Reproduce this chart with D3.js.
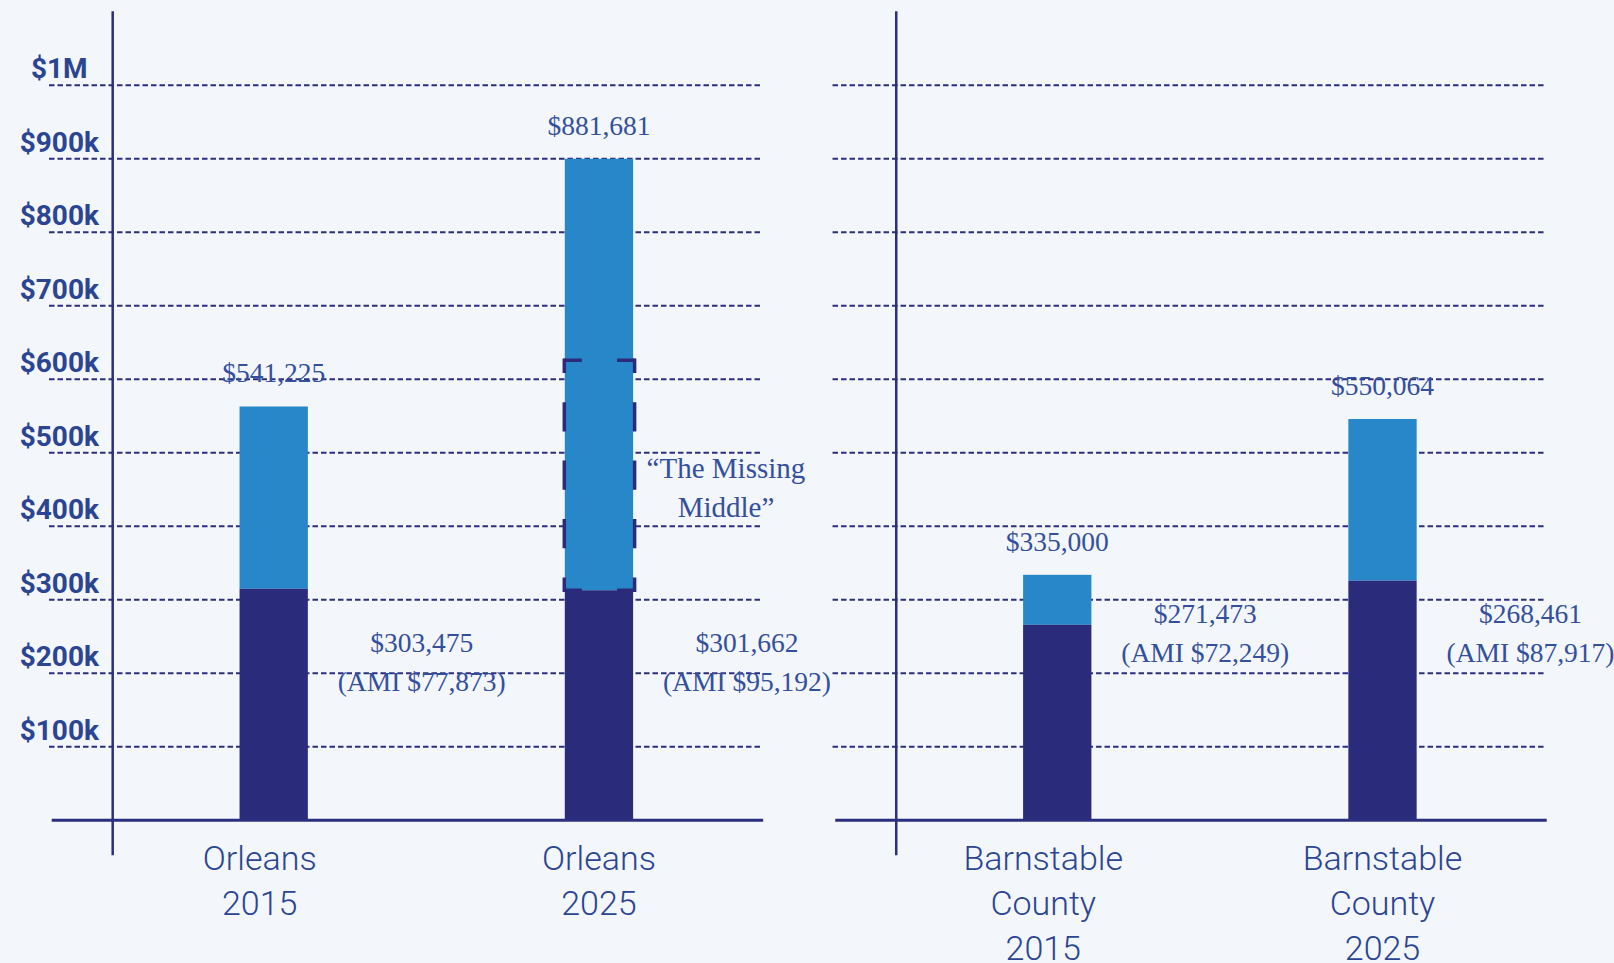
<!DOCTYPE html>
<html>
<head>
<meta charset="utf-8">
<script src="https://cdn.jsdelivr.net/npm/d3@7"></script>
<style>
    body { margin: 0; background: #f3f6fb; }
    svg { display: block; }
</style>
</head>
<body>
<div id="chart"></div>
<script>
const places = ["Orleans", "Barnstable County"];
const years = ["2015", "2025"];

// bar heights as drawn in the source graphic (median price / affordable price)
const medianPrice = [[563000, 900000], [334000, 546000]];
const affordablePrice = [[315000, 313000], [266000, 326000]];

const medianLabels = [["$541,225", "$881,681"], ["$335,000", "$550,064"]];
const affordableLabels = [["$303,475", "$301,662"], ["$271,473", "$268,461"]];
const amiLabels = [["(AMI $77,873)", "(AMI $95,192)"], ["(AMI $72,249)", "(AMI $87,917)"]];

const yTicks = [100000, 200000, 300000, 400000, 500000, 600000, 700000, 800000, 900000, 1000000];
const yTickLabels = ["$100k", "$200k", "$300k", "$400k", "$500k", "$600k", "$700k", "$800k", "$900k", "$1M"];

// "missing middle" band on Orleans 2025
const missingMiddle = [313000, 626000];
const missingMiddleText = ["\u201CThe Missing", "Middle\u201D"];

const config = {
    width: 1614,
    height: 963,
    light: "#2887c8",
    dark: "#2a2c7b",
    line: "#2b2f7e",
    text: "#2b4592",
    valueText: "#34509c",
    serif: "'Liberation Serif', 'DejaVu Serif', serif",
    sans: "Roboto, 'Noto Sans', sans-serif",
};

const svg = d3.select('#chart')
    .append('svg')
    .attr('width', config.width)
    .attr('height', config.height)
;

const y = d3.scaleLinear()
    .domain([0, 1000000])
    .range([820.3, 85.3])
;

const panelX = d3.scaleBand()
    .domain(places)
    .range([49, 1544])
    .paddingInner(0.092)
;

// y tick labels (left side only)
svg.append('g')
    .selectAll('text')
    .data(yTicks)
    .join('text')
    .attr('x', 59.3)
    .attr('y', d => y(d) - 7)
    .attr('text-anchor', 'middle')
    .attr('font-family', config.sans)
    .attr('font-weight', 700)
    .attr('font-size', 28)
    .attr('fill', config.text)
    .text((d, i) => yTickLabels[i])
;

places.forEach((place, pi) => {
    const p0 = panelX(place);
    const pw = panelX.bandwidth();
    const axisX = p0 + 63.7;

    const x = d3.scaleBand()
        .domain(years)
        .range([axisX, p0 + pw - 0.5])
        .paddingInner(0.79)
        .paddingOuter(0.39)
    ;

    const g = svg.append('g').attr('class', 'panel');

    // dashed gridlines
    g.append('g')
        .selectAll('line')
        .data(yTicks)
        .join('line')
        .attr('x1', p0)
        .attr('x2', p0 + pw)
        .attr('y1', d => y(d))
        .attr('y2', d => y(d))
        .attr('stroke', config.line)
        .attr('stroke-width', 2)
        .attr('stroke-dasharray', '5.5,3')
    ;

    // vertical axis
    g.append('line')
        .attr('x1', axisX).attr('x2', axisX)
        .attr('y1', y(0) + 35).attr('y2', y(1000000) - 74)
        .attr('stroke', config.line)
        .attr('stroke-width', 2.5)
    ;

    const rows = years.map((yr, i) => ({
        year: yr,
        median: medianPrice[pi][i],
        affordable: affordablePrice[pi][i],
        medianLabel: medianLabels[pi][i],
        affLabel: affordableLabels[pi][i],
        amiLabel: amiLabels[pi][i],
    }));

    // top (light) segment
    g.append('g')
        .selectAll('rect')
        .data(rows)
        .join('rect')
        .attr('x', d => x(d.year))
        .attr('width', x.bandwidth())
        .attr('y', d => y(d.median))
        .attr('height', d => y(d.affordable) - y(d.median))
        .attr('fill', config.light)
    ;

    // affordable (dark) segment
    g.append('g')
        .selectAll('rect')
        .data(rows)
        .join('rect')
        .attr('x', d => x(d.year))
        .attr('width', x.bandwidth())
        .attr('y', d => y(d.affordable))
        .attr('height', d => y(0) - y(d.affordable))
        .attr('fill', config.dark)
    ;

    // baseline
    g.append('line')
        .attr('x1', p0 + 2.7).attr('x2', p0 + pw + 2.7)
        .attr('y1', y(0)).attr('y2', y(0))
        .attr('stroke', config.line)
        .attr('stroke-width', 3)
    ;

    // median price labels
    g.append('g')
        .selectAll('text')
        .data(rows)
        .join('text')
        .attr('x', d => x(d.year) + x.bandwidth() / 2)
        .attr('y', d => y(d.median) - 24)
        .attr('text-anchor', 'middle')
        .attr('font-family', config.serif)
        .attr('font-size', 27.5)
        .attr('fill', config.valueText)
        .text(d => d.medianLabel)
    ;

    // affordable price + AMI labels, to the right of each bar
    const amiY = pi === 0 ? 652 : 623;
    const lab = g.append('g')
        .selectAll('text')
        .data(rows)
        .join('text')
        .attr('text-anchor', 'middle')
        .attr('font-family', config.serif)
        .attr('font-size', 27.5)
        .attr('fill', config.valueText)
    ;
    lab.append('tspan')
        .attr('x', d => x(d.year) + x.bandwidth() / 2 + 148)
        .attr('y', amiY)
        .text(d => d.affLabel)
    ;
    lab.append('tspan')
        .attr('x', d => x(d.year) + x.bandwidth() / 2 + 148)
        .attr('y', amiY + 39)
        .text(d => d.amiLabel)
    ;

    // category labels (2015 ones sit a little left of the bar in the original)
    const cat = g.append('g')
        .selectAll('text')
        .data(rows)
        .join('text')
        .attr('text-anchor', 'middle')
        .attr('font-family', config.sans)
        .attr('font-weight', 300)
        .attr('font-size', 34)
        .attr('fill', config.text)
    ;
    cat.each(function(d, i) {
        const lines = place.split(' ').concat([d.year]);
        const cx = x(d.year) + x.bandwidth() / 2 - (i === 0 ? 14 : 0);
        d3.select(this).selectAll('tspan')
            .data(lines)
            .join('tspan')
            .attr('x', cx)
            .attr('y', (l, i) => y(0) + 50 + i * 45)
            .text(l => l)
        ;
    });

    // "The Missing Middle" box on Orleans 2025
    if (pi === 0) {
        const bx0 = x("2025") - 0.5;
        const bx1 = x("2025") + x.bandwidth() + 1.5;
        const by0 = y(missingMiddle[1]);
        const by1 = y(missingMiddle[0]);
        const sw = 3.5;
        const sides = [
            [bx0, by0, bx1, by0, 1],
            [bx0, by1, bx1, by1, 1],
            [bx0, by0 - sw / 2, bx0, by1 + sw / 2, 4],
            [bx1, by0 - sw / 2, bx1, by1 + sw / 2, 4],
        ];
        g.append('g')
            .selectAll('line')
            .data(sides)
            .join('line')
            .attr('x1', d => d[0]).attr('y1', d => d[1])
            .attr('x2', d => d[2]).attr('y2', d => d[3])
            .attr('stroke', config.dark)
            .attr('stroke-width', sw)
            .attr('stroke-dasharray', d => {
                const len = Math.hypot(d[2] - d[0], d[3] - d[1]) / (2 * d[4]);
                return `${len} ${len}`;
            })
            .attr('stroke-dashoffset', d => Math.hypot(d[2] - d[0], d[3] - d[1]) / (4 * d[4]))
        ;

        const midY = (by0 + by1) / 2;
        g.append('text')
            .attr('text-anchor', 'middle')
            .attr('font-family', config.serif)
            .attr('font-size', 29)
            .attr('fill', config.valueText)
            .selectAll('tspan')
            .data(missingMiddleText)
            .join('tspan')
            .attr('x', x("2025") + x.bandwidth() / 2 + 127)
            .attr('y', (d, i) => midY + 3 + i * 39)
            .text(d => d)
        ;
    }
});
</script>
</body>
</html>
